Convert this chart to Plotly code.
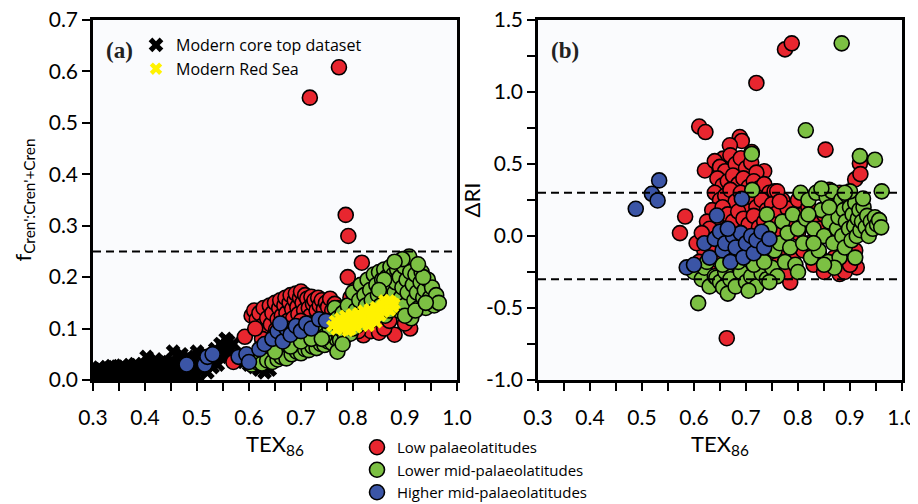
import plotly.graph_objects as go

# ---------------- Panel (a) data ----------------
core_top_tex = [
    0.300,0.305,0.309,0.314,0.320,0.325,0.329,0.335,0.340,0.344,0.350,0.355,0.359,0.365,0.370,0.374,0.380,0.385,0.389,0.395,0.400,0.404,0.410,0.415,0.419,0.425,0.430,0.434,0.440,0.445,0.449,0.455,0.460,0.464,0.470,0.475,0.479,0.485,0.490,0.494,0.500,
    0.302,0.307,0.311,0.317,0.322,0.327,0.332,0.337,0.342,0.347,0.352,0.357,0.362,0.367,0.372,0.377,0.382,0.387,0.392,0.397,0.402,0.407,0.412,0.417,0.422,0.427,0.432,0.437,0.442,0.447,0.452,0.457,0.462,0.467,0.472,0.477,0.482,0.487,0.492,0.497,0.503,
    0.301,0.306,0.312,0.316,0.321,0.326,0.331,0.336,0.341,0.346,0.351,0.356,0.361,0.366,0.371,0.376,0.381,0.386,0.391,0.396,0.401,0.406,0.411,0.416,0.421,0.426,0.431,0.436,0.441,0.446,0.451,0.456,0.461,0.466,0.471,0.476,0.481,0.486,0.491,0.496,0.505,
    0.403,0.454,0.420,0.470,0.500,0.510,0.515,0.520,0.530,0.535,0.540,0.545,0.550,0.555,0.560,0.565,0.570,0.550,0.560,0.575,0.580,0.590,0.600,0.610,0.620,0.630,0.625,0.640,0.500,0.510,0.520,0.490,0.530,0.540,
]
core_top_f = [
    0.004,0.006,0.003,0.005,0.007,0.004,0.006,0.003,0.005,0.008,0.004,0.006,0.003,0.007,0.005,0.004,0.006,0.003,0.008,0.005,0.004,0.007,0.003,0.006,0.005,0.004,0.008,0.003,0.006,0.005,0.007,0.004,0.006,0.003,0.008,0.005,0.004,0.007,0.006,0.005,0.008,
    0.012,0.015,0.011,0.016,0.013,0.017,0.012,0.015,0.018,0.013,0.016,0.014,0.019,0.013,0.017,0.015,0.012,0.018,0.014,0.016,0.019,0.013,0.017,0.015,0.020,0.014,0.018,0.016,0.021,0.015,0.019,0.017,0.022,0.016,0.020,0.018,0.023,0.019,0.022,0.024,0.026,
    0.020,0.018,0.024,0.021,0.019,0.025,0.022,0.027,0.020,0.026,0.023,0.028,0.024,0.022,0.029,0.025,0.031,0.026,0.023,0.030,0.027,0.033,0.028,0.025,0.032,0.030,0.035,0.029,0.034,0.031,0.037,0.033,0.030,0.038,0.035,0.040,0.036,0.042,0.038,0.045,0.048,
    0.045,0.055,0.040,0.050,0.055,0.040,0.050,0.035,0.045,0.060,0.050,0.070,0.065,0.080,0.075,0.060,0.070,0.050,0.045,0.050,0.040,0.035,0.030,0.025,0.020,0.015,0.030,0.020,0.025,0.020,0.015,0.010,0.025,0.030,
]

red_sea_tex = [0.760,0.765,0.768,0.772,0.775,0.778,0.782,0.785,0.788,0.792,0.795,0.798,0.800,0.803,0.806,0.810,0.812,0.815,0.818,0.820,0.823,0.826,0.829,0.832,0.835,0.838,0.841,0.844,0.847,0.850,0.853,0.856,0.859,0.862,0.865,0.868,0.871,0.874,0.877,0.880,0.860,0.870,0.790,0.830,0.845]
red_sea_f = [0.105,0.115,0.098,0.110,0.120,0.100,0.112,0.125,0.105,0.118,0.098,0.128,0.110,0.120,0.102,0.130,0.115,0.125,0.108,0.135,0.118,0.128,0.112,0.138,0.122,0.132,0.118,0.142,0.128,0.138,0.125,0.145,0.132,0.150,0.138,0.146,0.135,0.152,0.142,0.148,0.155,0.155,0.095,0.105,0.112]

low_a_tex = [0.570,0.592,0.640,0.605,0.610,0.615,0.620,0.625,0.628,0.632,0.635,0.640,0.642,0.645,0.650,0.652,0.655,0.658,0.660,0.663,0.665,0.668,0.670,0.672,0.675,0.678,0.680,0.683,0.685,0.688,0.690,0.693,0.695,0.698,0.700,0.703,0.706,0.708,0.712,0.715,0.718,0.720,0.723,0.726,0.730,0.733,0.736,0.740,0.744,0.748,0.752,0.756,0.760,0.765,0.770,0.625,0.648,0.660,0.670,0.690,0.700,0.720,0.635,0.612,0.680,
             0.717,0.773,0.786,0.791,0.790,0.817,0.804,0.795,
             0.820,0.835,0.850,0.880,0.910,0.900,0.860,0.810,0.840,0.870]
low_a_f = [0.035,0.084,0.062,0.125,0.135,0.118,0.130,0.105,0.140,0.092,0.120,0.145,0.108,0.130,0.150,0.098,0.118,0.140,0.155,0.125,0.105,0.145,0.160,0.130,0.115,0.150,0.165,0.138,0.120,0.155,0.168,0.142,0.128,0.160,0.172,0.150,0.135,0.165,0.158,0.140,0.125,0.162,0.148,0.155,0.135,0.160,0.145,0.155,0.138,0.150,0.142,0.158,0.135,0.148,0.140,0.080,0.085,0.075,0.090,0.100,0.115,0.110,0.070,0.100,0.085,
           0.549,0.608,0.321,0.280,0.200,0.228,0.175,0.160,
           0.087,0.095,0.092,0.088,0.100,0.110,0.100,0.095,0.120,0.115]

lowermid_a_tex = [0.605,0.615,0.625,0.635,0.645,0.655,0.662,0.672,0.682,0.692,0.700,0.708,0.715,0.722,0.730,0.738,0.745,0.752,0.760,0.768,0.775,0.712,0.720,0.735,0.745,0.755,0.765,0.770,0.775,0.780,0.785,0.790,0.795,0.800,0.805,0.808,0.812,0.815,0.818,0.822,0.825,0.828,0.830,0.833,0.836,0.840,0.842,0.845,0.848,0.850,0.853,0.856,0.858,0.860,0.862,0.865,0.868,0.870,0.872,0.875,0.878,0.880,0.882,0.885,0.888,0.890,0.892,0.895,0.898,0.900,0.903,0.905,0.908,0.910,0.912,0.915,0.918,0.920,0.923,0.926,0.930,0.932,0.935,0.938,0.940,0.944,0.948,0.952,0.956,0.960,0.965,0.935,0.925,0.895,0.880,0.860,0.850,0.870,0.900,0.920,0.940,0.770,0.785,0.795,0.650,0.680,0.700,0.720,0.740,0.800,0.780]
lowermid_a_f = [0.030,0.035,0.032,0.038,0.035,0.040,0.045,0.042,0.050,0.055,0.052,0.060,0.058,0.065,0.062,0.070,0.068,0.075,0.072,0.080,0.078,0.110,0.090,0.095,0.085,0.100,0.140,0.120,0.100,0.130,0.095,0.145,0.115,0.170,0.135,0.105,0.155,0.185,0.125,0.165,0.145,0.195,0.115,0.175,0.155,0.205,0.135,0.185,0.165,0.210,0.145,0.195,0.175,0.215,0.125,0.200,0.160,0.185,0.220,0.145,0.205,0.170,0.190,0.215,0.135,0.200,0.160,0.180,0.220,0.145,0.195,0.170,0.240,0.210,0.120,0.185,0.155,0.205,0.170,0.140,0.190,0.210,0.160,0.175,0.140,0.195,0.160,0.180,0.145,0.165,0.150,0.200,0.225,0.235,0.230,0.195,0.175,0.135,0.125,0.135,0.150,0.055,0.085,0.090,0.055,0.065,0.075,0.080,0.080,0.100,0.070]

highermid_a_tex = [0.480,0.515,0.520,0.530,0.580,0.595,0.600,0.620,0.630,0.645,0.655,0.665,0.672,0.680,0.690,0.700,0.710,0.720,0.735,0.748,0.660]
highermid_a_f = [0.030,0.030,0.045,0.050,0.045,0.050,0.035,0.060,0.070,0.080,0.095,0.075,0.100,0.088,0.105,0.095,0.110,0.100,0.118,0.115,0.110]

# ---------------- Panel (b) data ----------------
low_b_tex = [0.775,0.788,0.720,0.610,0.622,0.853,0.919,0.910,0.920,0.583,0.573,0.663,0.913,0.880,0.785,
             0.688,0.692,0.669,0.711,0.656,0.621,0.735,
             0.640,0.650,0.660,0.670,0.680,0.690,0.700,0.710,0.720,0.645,0.655,0.665,0.675,0.685,0.695,0.705,0.715,0.725,0.735,0.745,0.755,0.640,0.650,0.660,0.670,0.680,0.690,0.700,0.710,0.720,0.730,0.740,0.750,0.760,0.770,0.780,0.635,0.645,0.655,0.665,0.675,0.685,0.695,0.705,0.715,0.725,0.735,0.745,0.755,0.765,0.775,0.785,0.625,0.630,0.640,0.620,0.635,0.650,0.660,0.670,0.680,0.690,0.700,0.710,0.720,0.730,0.740,0.750,0.760,0.770,0.780,0.790,0.600,0.610,0.630,0.605,0.615,
             0.800,0.810,0.820,0.830,0.840,0.850,0.860,0.870,0.880,0.890,0.900,0.905,0.810,0.830,0.850,0.870,0.890,0.900,0.910,0.800,0.820,0.840,0.860,0.760,0.765]
low_b_dri = [1.296,1.338,1.063,0.760,0.722,0.600,0.504,0.393,0.430,0.135,0.020,-0.710,-0.218,-0.264,-0.322,
             0.687,0.660,0.630,0.583,0.537,0.455,0.450,
             0.520,0.480,0.450,0.560,0.500,0.540,0.470,0.510,0.440,0.400,0.350,0.380,0.420,0.360,0.400,0.340,0.380,0.330,0.360,0.300,0.310,0.300,0.250,0.280,0.320,0.240,0.300,0.220,0.270,0.200,0.250,0.180,0.220,0.160,0.250,0.190,0.180,0.130,0.200,0.150,0.100,0.170,0.120,0.080,0.140,0.060,0.100,0.040,0.080,0.020,0.100,0.060,0.100,0.050,-0.020,-0.100,-0.080,-0.150,-0.050,-0.120,-0.200,-0.060,-0.130,-0.030,-0.180,-0.080,-0.140,-0.050,-0.200,-0.100,-0.250,-0.150,-0.220,-0.180,-0.250,-0.050,0.020,
             0.250,0.150,0.200,0.100,0.050,0.150,0.000,0.100,0.300,0.200,0.050,0.150,-0.100,-0.200,-0.250,-0.150,-0.250,-0.200,-0.100,0.020,-0.050,-0.120,0.320,0.310,0.240]

lowermid_b_tex = [0.884,0.815,0.919,0.948,0.961,0.711,0.712,0.608,
                  0.600,0.615,0.620,0.630,0.640,0.643,0.650,0.656,0.660,0.665,0.670,0.680,0.690,0.700,0.710,0.720,0.730,0.740,0.750,0.760,0.625,0.655,0.685,0.715,0.735,0.705,0.745,
                  0.740,0.745,0.755,0.765,0.770,0.775,0.780,0.785,0.790,0.795,0.800,0.800,
                  0.805,0.810,0.815,0.820,0.825,0.830,0.835,0.840,0.845,0.850,0.855,0.858,0.860,0.865,0.868,0.870,0.875,0.878,0.880,0.883,0.885,0.888,0.890,0.892,0.895,0.898,0.900,0.903,0.905,0.908,0.910,0.913,0.915,0.918,0.920,0.923,0.926,0.930,0.933,0.936,0.940,0.944,0.948,0.952,0.956,0.960,0.870,0.850,0.830,0.820,0.845,0.900,0.925,0.910,0.890,0.860]
lowermid_b_dri = [1.338,0.734,0.555,0.530,0.310,0.570,0.320,-0.466,
                  -0.250,-0.300,-0.220,-0.350,-0.280,-0.290,-0.320,-0.357,-0.250,-0.400,-0.300,-0.350,-0.250,-0.320,-0.280,-0.350,-0.260,-0.300,-0.220,-0.280,-0.180,-0.200,-0.180,-0.200,-0.180,-0.380,-0.320,
                  0.150,0.050,-0.100,-0.050,0.100,-0.180,0.020,-0.080,0.150,-0.200,0.050,-0.250,
                  0.300,-0.050,0.120,0.250,-0.150,0.050,0.300,-0.100,0.180,0.000,0.270,-0.180,0.100,0.310,-0.050,0.200,0.050,0.130,-0.150,0.250,0.000,0.180,-0.080,0.100,0.280,0.050,0.200,-0.030,0.150,0.070,0.230,0.000,0.120,0.180,0.040,0.100,0.200,0.060,0.140,0.000,0.100,0.050,0.130,0.080,0.110,0.060,-0.220,-0.200,-0.050,0.150,0.330,0.310,0.260,-0.150,0.300,0.200]

highermid_b_tex = [0.533,0.519,0.530,0.488,0.692,0.644,0.586,0.600,0.620,0.630,0.640,0.650,0.655,0.660,0.670,0.675,0.680,0.690,0.695,0.700,0.710,0.715,0.720,0.730,0.735,0.745,0.665]
highermid_b_dri = [0.386,0.293,0.247,0.189,0.258,0.142,-0.218,-0.200,-0.050,-0.150,-0.020,0.030,-0.100,-0.050,-0.180,0.000,-0.080,0.020,-0.150,-0.050,0.000,-0.120,-0.030,0.030,-0.080,-0.020,0.050]

threshold_a = [0.25]
threshold_b = [0.3, -0.3]

x_ticks = [0.3, 0.4, 0.5, 0.6, 0.7, 0.8, 0.9, 1.0]
y_ticks_a = [0.0, 0.1, 0.2, 0.3, 0.4, 0.5, 0.6, 0.7]
y_ticks_b = [-1.0, -0.5, 0.0, 0.5, 1.0, 1.5]

RED = "#E8262F"
GREEN = "#7CC043"
BLUE = "#3B55A6"
YELLOW = "#FFF200"

FONT = "Lato"
LFONT = "Open Sans"

fig = go.Figure()

def circles(x, y, color, name, xa, ya, show):
    return go.Scatter(x=x, y=y, mode="markers", name=name, xaxis=xa, yaxis=ya,
                      showlegend=show, legendgroup=name, legend="legend",
                      marker=dict(symbol="circle", size=15, color=color,
                                  line=dict(color="black", width=1.6)))

fig.add_trace(go.Scatter(x=core_top_tex, y=core_top_f, mode="markers",
                         name="Modern core top dataset", xaxis="x", yaxis="y",
                         legend="legend2",
                         marker=dict(symbol="x", size=13, color="black", line=dict(width=0))))
fig.add_trace(circles(low_a_tex, low_a_f, RED, "Low palaeolatitudes", "x", "y", True))
fig.add_trace(circles(lowermid_a_tex, lowermid_a_f, GREEN, "Lower mid-palaeolatitudes", "x", "y", True))
fig.add_trace(circles(highermid_a_tex, highermid_a_f, BLUE, "Higher mid-palaeolatitudes", "x", "y", True))
fig.add_trace(go.Scatter(x=red_sea_tex, y=red_sea_f, mode="markers",
                         name="Modern Red Sea", xaxis="x", yaxis="y",
                         legend="legend2",
                         marker=dict(symbol="x", size=11, color=YELLOW, line=dict(width=0))))

fig.add_trace(circles(low_b_tex, low_b_dri, RED, "Low palaeolatitudes", "x2", "y2", False))
fig.add_trace(circles(lowermid_b_tex, lowermid_b_dri, GREEN, "Lower mid-palaeolatitudes", "x2", "y2", False))
fig.add_trace(circles(highermid_b_tex, highermid_b_dri, BLUE, "Higher mid-palaeolatitudes", "x2", "y2", False))

for t in threshold_a:
    fig.add_shape(type="line", xref="x domain", yref="y", x0=0, x1=1, y0=t, y1=t,
                  line=dict(color="black", width=2, dash="8px,5px"))
for t in threshold_b:
    fig.add_shape(type="line", xref="x2 domain", yref="y2", x0=0, x1=1, y0=t, y1=t,
                  line=dict(color="black", width=2, dash="8px,5px"))

# the page body adds an 8px offset, so positions are given 8px up/left
W, H = 918, 504
dom_a = [85 / W, 449 / W]
dom_b = [530 / W, 894 / W]
dom_y = [1 - 372 / H, 1 - 12 / H]

xcommon = dict(range=[0.3, 1.0], tickvals=x_ticks, ticktext=[f"{v:.1f}" for v in x_ticks],
               ticks="outside", ticklen=8, tickwidth=2, tickcolor="black",
               minor=dict(dtick=0.05, tick0=0.3, ticks="outside", ticklen=8, tickwidth=2, tickcolor="black"),
               showline=True, linecolor="black", linewidth=2.5, mirror=True,
               showgrid=False, zeroline=False, automargin=False, ticklabelstandoff=9,
               ticklabeloverflow="allow",
               tickfont=dict(family=FONT, size=21, color="black"),
               title=dict(text="TEX<sub>86</sub>", font=dict(family=FONT, size=22, color="black"), standoff=9))

fig.update_layout(
    width=W, height=H, autosize=False,
    margin=dict(l=0, r=0, t=0, b=0, pad=0, autoexpand=False),
    paper_bgcolor="white",
    plot_bgcolor="#FAFBFD",
    xaxis=dict(domain=dom_a, anchor="y", **xcommon),
    xaxis2=dict(domain=dom_b, anchor="y2", **xcommon),
    yaxis=dict(domain=dom_y, anchor="x", range=[0, 0.7], tickvals=y_ticks_a,
               ticktext=[f"{v:.1f}" for v in y_ticks_a],
               ticks="outside", ticklen=8, tickwidth=2, tickcolor="black",
               showline=True, linecolor="black", linewidth=2.5, mirror=True,
               showgrid=False, zeroline=False, automargin=False, ticklabeloverflow="allow",
               tickfont=dict(family=FONT, size=21, color="black"),
               title=dict(text="f<sub>Cren':Cren'+Cren</sub>", font=dict(family=FONT, size=22, color="black"), standoff=12)),
    yaxis2=dict(domain=dom_y, anchor="x2", range=[-1.0, 1.5], tickvals=y_ticks_b,
                ticktext=[f"{v:.1f}" for v in y_ticks_b],
                ticks="outside", ticklen=8, tickwidth=2, tickcolor="black",
                minor=dict(dtick=0.25, tick0=0, ticks="outside", ticklen=8, tickwidth=2, tickcolor="black"),
                showline=True, linecolor="black", linewidth=2.5, mirror=True,
                showgrid=False, zeroline=False, automargin=False, ticklabeloverflow="allow",
                tickfont=dict(family=FONT, size=21, color="black"),
                title=dict(text="ΔRI", font=dict(family=FONT, size=22, color="black"), standoff=0)),
    legend=dict(x=349 / W, y=1 - 423 / H, xanchor="left", yanchor="top",
                bgcolor="rgba(0,0,0,0)", borderwidth=0, tracegroupgap=0,
                font=dict(family=LFONT, size=15, color="black"), itemsizing="trace"),
    legend2=dict(x=128 / W, y=1 - 20 / H, xanchor="left", yanchor="top",
                 bgcolor="rgba(0,0,0,0)", borderwidth=0,
                 font=dict(family=LFONT, size=16, color="black"), itemsizing="trace"),
    annotations=[
        dict(text="<b>(a)</b>", x=96 / W, y=1 - 42 / H, xref="paper", yref="paper",
             xanchor="left", yanchor="middle", showarrow=False,
             font=dict(family="Liberation Serif", size=23, color="#222")),
        dict(text="<b>(b)</b>", x=541 / W, y=1 - 42 / H, xref="paper", yref="paper",
             xanchor="left", yanchor="middle", showarrow=False,
             font=dict(family="Liberation Serif", size=23, color="#222")),
    ],
)

fig.write_html("out.html")
